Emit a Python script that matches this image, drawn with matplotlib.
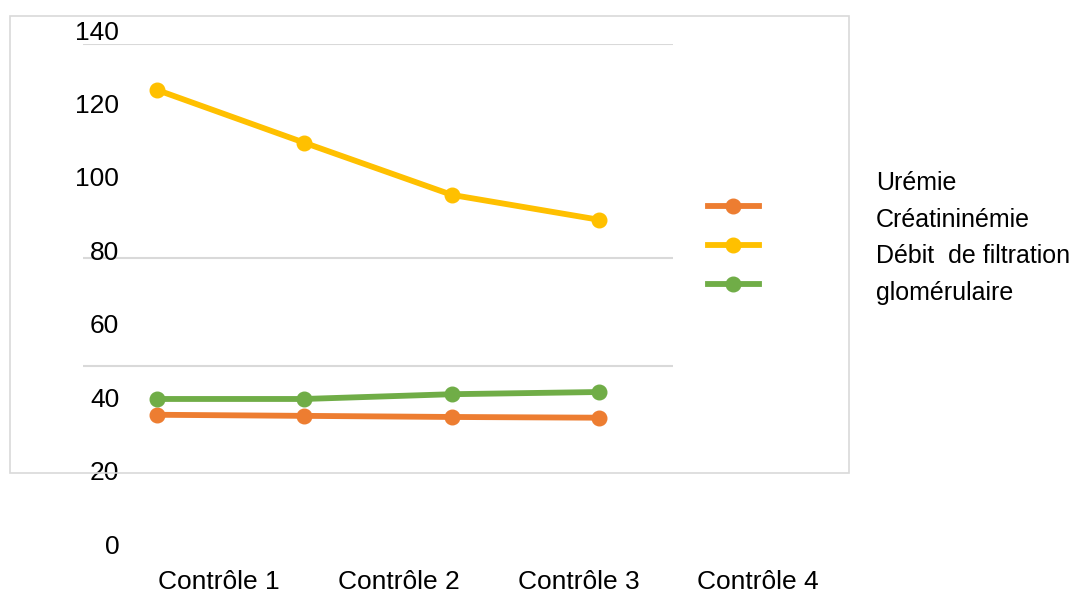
import matplotlib.pyplot as plt
from matplotlib.patches import Rectangle

controles = ['Contrôle 1', 'Contrôle 2', 'Contrôle 3', 'Contrôle 4']
series = ['Urémie', 'Créatininémie', 'Débit  de filtration glomérulaire']
uremie = [35.2, 34.9, 34.6, 34.4]
creat = [123.7, 109.3, 95.1, 88.3]
dfg = [39.5, 39.5, 40.8, 41.4]
yticks = [0, 20, 40, 60, 80, 100, 120, 140]
grid_vals = [80, 100, 140]
couleurs = ['#ED7D31', '#FFC000', '#70AD47']

W, H = 1083, 596
fig = plt.figure(figsize=(W / 100, H / 100), dpi=100)
plt.rcParams['font.family'] = ['Liberation Sans', 'DejaVu Sans']


def box(x0, y0, x1, y1):
    # pixel box (top-left origin) -> figure fraction
    return [x0 / W, 1 - y1 / H, (x1 - x0) / W, (y1 - y0) / H]


# chart border
fig.patches.append(Rectangle((10 / W, 1 - 473 / H), 839 / W, 457 / H,
                             transform=fig.transFigure, fill=False,
                             edgecolor='#d9d9d9', lw=1.2))

# gridlines
axg = fig.add_axes(box(83, 44, 673, 473))
axg.set_ylim(60, 140)
for v in grid_vals:
    axg.axhline(v, color='#d9d9d9', lw=1.5)
axg.axis('off')

# labels axes
axl = fig.add_axes(box(129, 30, 848, 544))
axl.set_xlim(-0.5, 3.5)
axl.set_ylim(0, 140)
axl.set_xticks(range(4), controles)
axl.set_yticks(yticks, [str(v) for v in yticks])
axl.tick_params(length=0, labelsize=19)
axl.tick_params(axis='y', pad=7)
axl.tick_params(axis='x', pad=19)
axl.patch.set_alpha(0)
for s in axl.spines.values():
    s.set_visible(False)

# data axes
ax = fig.add_axes(box(83, 30, 673, 544))
ax.set_xlim(-0.5, 3.5)
ax.set_ylim(0, 140)
x = range(len(controles))
lines = []
for vals, c, name in zip([uremie, creat, dfg], couleurs, series):
    l, = ax.plot(x, vals, color=c, lw=4.2, marker='o', ms=10.5, label=name)
    lines.append(l)
ax.axis('off')

ax.legend(lines, ['', '', ''], loc='upper left', bbox_to_anchor=(625 / 590, 1 - 169 / 514),
          frameon=False, fontsize=14, handlelength=2.6, labelspacing=1.1,
          borderpad=0, borderaxespad=0, handletextpad=0)

fig.text(876 / W, 1 - 171 / H, 'Urémie\nCréatininémie\nDébit  de filtration\nglomérulaire',
         fontsize=18, va='top', ha='left', linespacing=1.66)

fig.savefig('out.png', dpi=100)
